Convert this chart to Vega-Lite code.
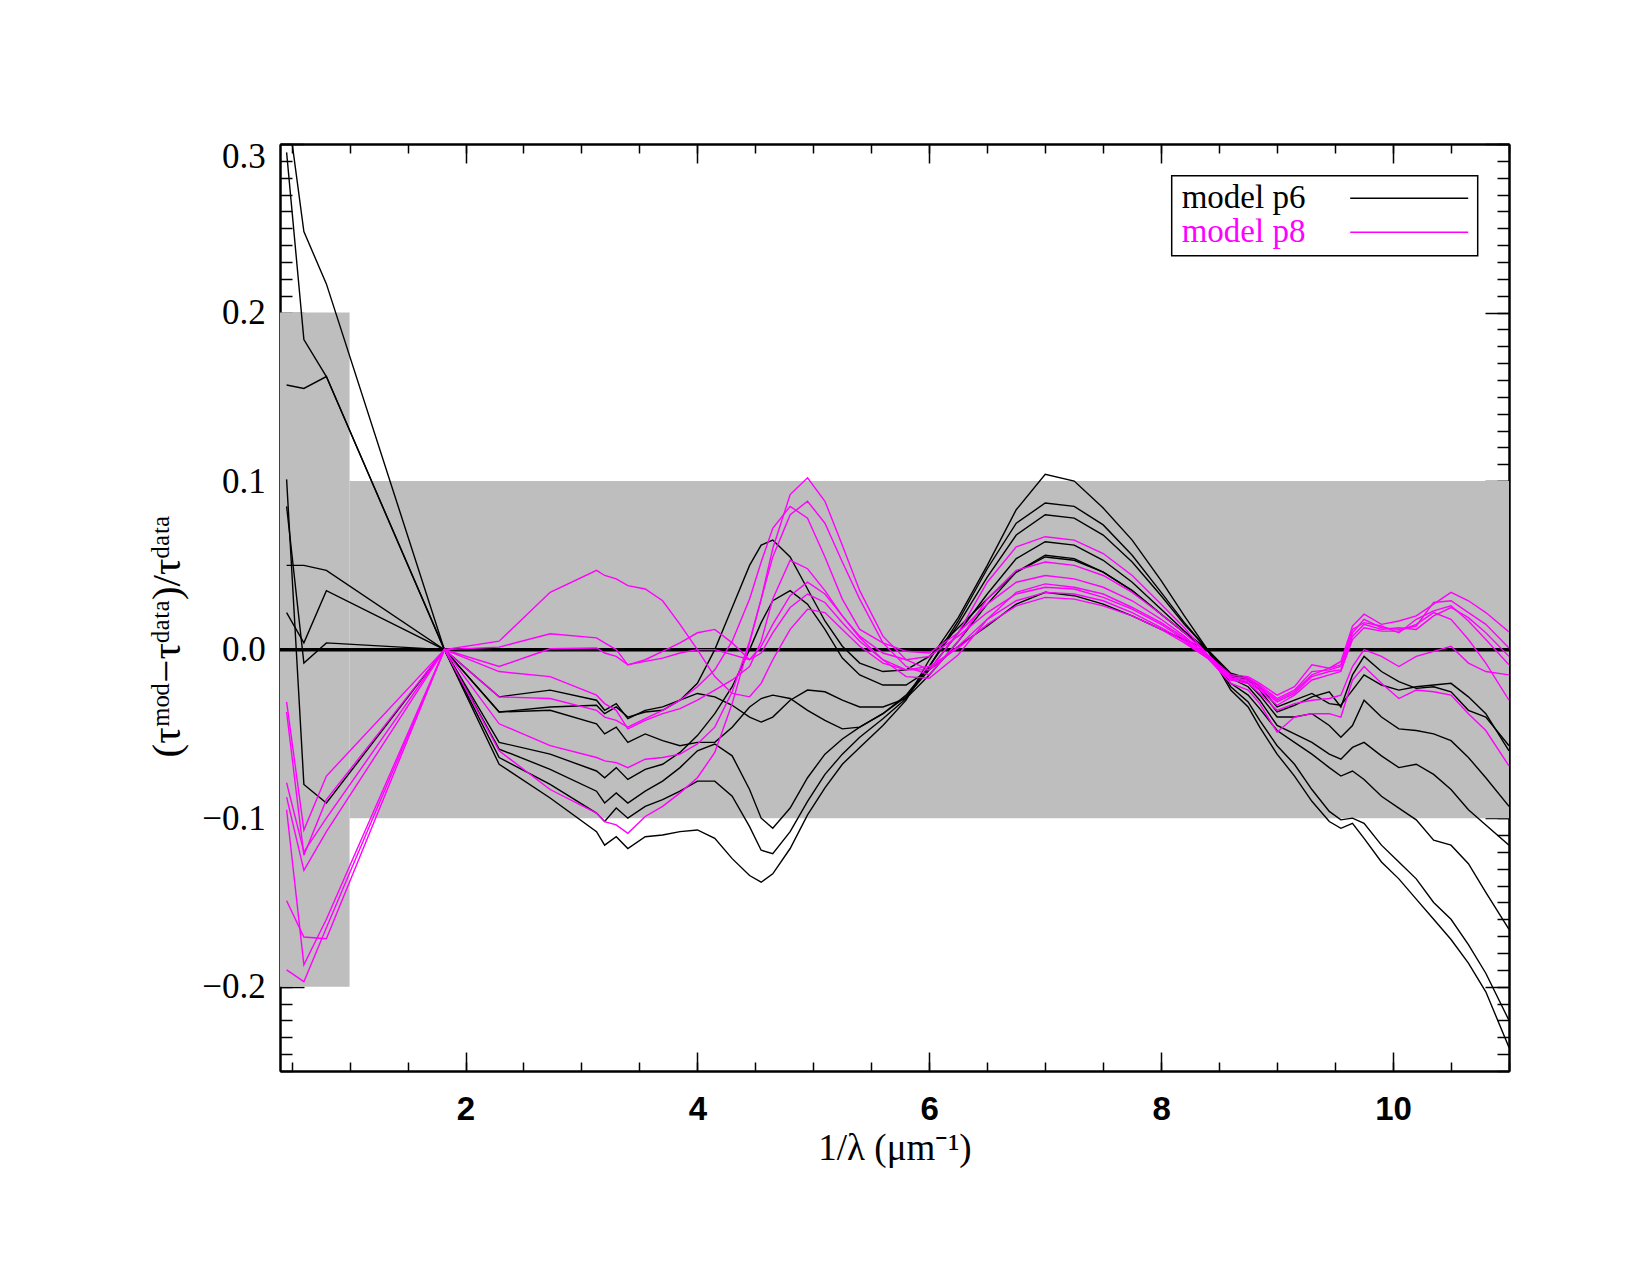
{
"$schema":"https://vega.github.io/schema/vega-lite/v6.json",
"width":1229,"height":927,
"autosize":{"type":"none"},
"padding":{"left":280,"top":144,"right":141,"bottom":204},
"background":"white",
"config":{"view":{"stroke":null},"axis":{"grid":false,"domainColor":"black","domainWidth":2,"tickColor":"black","tickWidth":1.5,"labelColor":"black","titleColor":"black"}},
"resolve":{"axis":{"x":"independent","y":"independent"}},
"layer":[
{"data":{"values":[{"x":0.4,"x2":1.0,"y":-0.2,"y2":0.2}]},
 "mark":{"type":"rect","color":"#bebebe"},
 "encoding":{
  "x":{"field":"x","type":"quantitative","scale":{"domain":[0.4,11],"nice":false,"zero":false},
   "axis":{"orient":"bottom","values":[2,4,6,8,10],"format":"d","tickSize":-19,"labelPadding":41,"labelFont":"Liberation Sans","labelFontSize":33,"labelFontWeight":"bold","labelFlush":false,"title":"1/λ (μm⁻¹)","titleFont":"Liberation Serif","titleFontSize":37,"titleFontWeight":"normal","titleY":88,"titleBaseline":"alphabetic"}},
  "x2":{"field":"x2"},
  "y":{"field":"y","type":"quantitative","scale":{"domain":[-0.25,0.3],"nice":false,"zero":false},
   "axis":{"orient":"left","values":[-0.2,-0.1,0,0.1,0.2,0.3],"format":".1f","tickSize":-24,"labelPadding":38.7,"labelFont":"Liberation Serif","labelFontSize":35,"labelFlush":true,"labelFlushOffset":5,"title":"(τᵐᵒᵈ−τᵈᵃᵗᵃ)/τᵈᵃᵗᵃ","titleFont":"Liberation Serif","titleFontSize":41,"titleFontWeight":"normal","titleX":-113,"titleY":492,"titleAngle":270,"titleAlign":"center","titleBaseline":"middle"}},
  "y2":{"field":"y2"}
 }},
{"data":{"values":[{"x":1.0,"x2":11.0,"y":-0.1,"y2":0.1}]},
 "mark":{"type":"rect","color":"#bebebe"},
 "encoding":{
  "x":{"field":"x","type":"quantitative","scale":{"domain":[0.4,11],"nice":false,"zero":false},
   "axis":{"orient":"top","values":[2,4,6,8,10],"tickSize":-19,"labels":false,"title":null}},
  "x2":{"field":"x2"},
  "y":{"field":"y","type":"quantitative","scale":{"domain":[-0.25,0.3],"nice":false,"zero":false},
   "axis":{"orient":"right","values":[-0.2,-0.1,0,0.1,0.2,0.3],"tickSize":-24,"labels":false,"title":null}},
  "y2":{"field":"y2"}
 }},
{"data":{"values":[{"x":0.4,"x2":11.0,"y":0}]},
 "mark":{"type":"rule","color":"black","strokeWidth":3.5},
 "encoding":{
  "x":{"field":"x","type":"quantitative","scale":{"domain":[0.4,11],"nice":false,"zero":false},
   "axis":{"orient":"bottom","values":[0.5,1,1.5,2,2.5,3,3.5,4,4.5,5,5.5,6,6.5,7,7.5,8,8.5,9,9.5,10,10.5,11],"tickSize":-9,"labels":false,"title":null}},
  "x2":{"field":"x2"},
  "y":{"field":"y","type":"quantitative","scale":{"domain":[-0.25,0.3],"nice":false,"zero":false},
   "axis":{"orient":"left","values":[-0.25,-0.24,-0.23,-0.22,-0.21,-0.2,-0.19,-0.18,-0.17,-0.16,-0.15,-0.14,-0.13,-0.12,-0.11,-0.1,-0.09,-0.08,-0.07,-0.06,-0.05,-0.04,-0.03,-0.02,-0.01,0,0.01,0.02,0.03,0.04,0.05,0.06,0.07,0.08,0.09,0.1,0.11,0.12,0.13,0.14,0.15,0.16,0.17,0.18,0.19,0.2,0.21,0.22,0.23,0.24,0.25,0.26,0.27,0.28,0.29,0.3],"tickSize":-12,"labels":false,"title":null}}
 }},
{"data":{"values":[
{"m":"model p6","c":"b1","x":0.457,"y":0.325},{"m":"model p6","c":"b1","x":0.606,"y":0.248},{"m":"model p6","c":"b1","x":0.8,"y":0.217},{"m":"model p6","c":"b1","x":1.818,"y":0},{"m":"model p6","c":"b1","x":2.29,"y":-0.068},{"m":"model p6","c":"b1","x":2.73,"y":-0.088},
{"m":"model p6","c":"b1","x":3.13,"y":-0.108},{"m":"model p6","c":"b1","x":3.2,"y":-0.116},{"m":"model p6","c":"b1","x":3.3,"y":-0.111},{"m":"model p6","c":"b1","x":3.4,"y":-0.118},{"m":"model p6","c":"b1","x":3.55,"y":-0.111},{"m":"model p6","c":"b1","x":3.7,"y":-0.110},{"m":"model p6","c":"b1","x":3.85,"y":-0.108},{"m":"model p6","c":"b1","x":4.0,"y":-0.107},
{"m":"model p6","c":"b1","x":4.15,"y":-0.112},{"m":"model p6","c":"b1","x":4.3,"y":-0.124},{"m":"model p6","c":"b1","x":4.45,"y":-0.134},{"m":"model p6","c":"b1","x":4.55,"y":-0.138},{"m":"model p6","c":"b1","x":4.65,"y":-0.133},{"m":"model p6","c":"b1","x":4.8,"y":-0.118},{"m":"model p6","c":"b1","x":4.95,"y":-0.098},{"m":"model p6","c":"b1","x":5.1,"y":-0.082},
{"m":"model p6","c":"b1","x":5.25,"y":-0.068},{"m":"model p6","c":"b1","x":5.4,"y":-0.058},{"m":"model p6","c":"b1","x":5.6,"y":-0.045},{"m":"model p6","c":"b1","x":5.8,"y":-0.030},{"m":"model p6","c":"b1","x":6.0,"y":-0.006},{"m":"model p6","c":"b1","x":6.25,"y":0.019},{"m":"model p6","c":"b1","x":6.5,"y":0.050},{"m":"model p6","c":"b1","x":6.75,"y":0.083},
{"m":"model p6","c":"b1","x":7.0,"y":0.104},{"m":"model p6","c":"b1","x":7.25,"y":0.100},{"m":"model p6","c":"b1","x":7.5,"y":0.084},{"m":"model p6","c":"b1","x":7.75,"y":0.065},{"m":"model p6","c":"b1","x":8.0,"y":0.041},{"m":"model p6","c":"b1","x":8.2,"y":0.020},{"m":"model p6","c":"b1","x":8.4,"y":0.000},{"m":"model p6","c":"b1","x":8.6,"y":-0.024},
{"m":"model p6","c":"b1","x":8.75,"y":-0.034},{"m":"model p6","c":"b1","x":8.85,"y":-0.046},{"m":"model p6","c":"b1","x":9.0,"y":-0.062},{"m":"model p6","c":"b1","x":9.15,"y":-0.075},{"m":"model p6","c":"b1","x":9.3,"y":-0.090},{"m":"model p6","c":"b1","x":9.45,"y":-0.102},{"m":"model p6","c":"b1","x":9.55,"y":-0.106},{"m":"model p6","c":"b1","x":9.65,"y":-0.103},
{"m":"model p6","c":"b1","x":9.75,"y":-0.112},{"m":"model p6","c":"b1","x":9.9,"y":-0.126},{"m":"model p6","c":"b1","x":10.05,"y":-0.136},{"m":"model p6","c":"b1","x":10.2,"y":-0.148},{"m":"model p6","c":"b1","x":10.35,"y":-0.160},{"m":"model p6","c":"b1","x":10.5,"y":-0.172},{"m":"model p6","c":"b1","x":10.65,"y":-0.186},{"m":"model p6","c":"b1","x":10.8,"y":-0.203},{"m":"model p6","c":"b1","x":11.0,"y":-0.236},

{"m":"model p6","c":"b2","x":0.457,"y":0.295},{"m":"model p6","c":"b2","x":0.606,"y":0.184},{"m":"model p6","c":"b2","x":0.8,"y":0.162},{"m":"model p6","c":"b2","x":1.818,"y":0},{"m":"model p6","c":"b2","x":2.29,"y":-0.064},{"m":"model p6","c":"b2","x":2.73,"y":-0.080},
{"m":"model p6","c":"b2","x":3.13,"y":-0.097},{"m":"model p6","c":"b2","x":3.2,"y":-0.102},{"m":"model p6","c":"b2","x":3.3,"y":-0.094},{"m":"model p6","c":"b2","x":3.4,"y":-0.100},{"m":"model p6","c":"b2","x":3.55,"y":-0.093},{"m":"model p6","c":"b2","x":3.7,"y":-0.089},{"m":"model p6","c":"b2","x":3.85,"y":-0.084},{"m":"model p6","c":"b2","x":4.0,"y":-0.078},
{"m":"model p6","c":"b2","x":4.15,"y":-0.078},{"m":"model p6","c":"b2","x":4.3,"y":-0.087},{"m":"model p6","c":"b2","x":4.45,"y":-0.105},{"m":"model p6","c":"b2","x":4.55,"y":-0.119},{"m":"model p6","c":"b2","x":4.65,"y":-0.121},{"m":"model p6","c":"b2","x":4.8,"y":-0.108},{"m":"model p6","c":"b2","x":4.95,"y":-0.090},{"m":"model p6","c":"b2","x":5.1,"y":-0.074},
{"m":"model p6","c":"b2","x":5.25,"y":-0.062},{"m":"model p6","c":"b2","x":5.4,"y":-0.052},{"m":"model p6","c":"b2","x":5.6,"y":-0.041},{"m":"model p6","c":"b2","x":5.8,"y":-0.029},{"m":"model p6","c":"b2","x":6.0,"y":-0.010},{"m":"model p6","c":"b2","x":6.25,"y":0.017},{"m":"model p6","c":"b2","x":6.5,"y":0.048},{"m":"model p6","c":"b2","x":6.75,"y":0.075},
{"m":"model p6","c":"b2","x":7.0,"y":0.087},{"m":"model p6","c":"b2","x":7.25,"y":0.085},{"m":"model p6","c":"b2","x":7.5,"y":0.074},{"m":"model p6","c":"b2","x":7.75,"y":0.056},{"m":"model p6","c":"b2","x":8.0,"y":0.034},{"m":"model p6","c":"b2","x":8.2,"y":0.016},{"m":"model p6","c":"b2","x":8.4,"y":0.000},{"m":"model p6","c":"b2","x":8.6,"y":-0.022},
{"m":"model p6","c":"b2","x":8.75,"y":-0.031},{"m":"model p6","c":"b2","x":8.85,"y":-0.042},{"m":"model p6","c":"b2","x":9.0,"y":-0.057},{"m":"model p6","c":"b2","x":9.15,"y":-0.068},{"m":"model p6","c":"b2","x":9.3,"y":-0.083},{"m":"model p6","c":"b2","x":9.45,"y":-0.096},{"m":"model p6","c":"b2","x":9.55,"y":-0.101},{"m":"model p6","c":"b2","x":9.65,"y":-0.100},
{"m":"model p6","c":"b2","x":9.75,"y":-0.103},{"m":"model p6","c":"b2","x":9.9,"y":-0.116},{"m":"model p6","c":"b2","x":10.05,"y":-0.126},{"m":"model p6","c":"b2","x":10.2,"y":-0.136},{"m":"model p6","c":"b2","x":10.35,"y":-0.150},{"m":"model p6","c":"b2","x":10.5,"y":-0.160},{"m":"model p6","c":"b2","x":10.65,"y":-0.175},{"m":"model p6","c":"b2","x":10.8,"y":-0.192},{"m":"model p6","c":"b2","x":11.0,"y":-0.220},

{"m":"model p6","c":"b3","x":0.457,"y":0.157},{"m":"model p6","c":"b3","x":0.606,"y":0.155},{"m":"model p6","c":"b3","x":0.8,"y":0.162},{"m":"model p6","c":"b3","x":1.818,"y":0},{"m":"model p6","c":"b3","x":2.29,"y":-0.059},{"m":"model p6","c":"b3","x":2.73,"y":-0.071},
{"m":"model p6","c":"b3","x":3.13,"y":-0.084},{"m":"model p6","c":"b3","x":3.2,"y":-0.091},{"m":"model p6","c":"b3","x":3.3,"y":-0.085},{"m":"model p6","c":"b3","x":3.4,"y":-0.091},{"m":"model p6","c":"b3","x":3.55,"y":-0.084},{"m":"model p6","c":"b3","x":3.7,"y":-0.078},{"m":"model p6","c":"b3","x":3.85,"y":-0.070},{"m":"model p6","c":"b3","x":4.0,"y":-0.060},
{"m":"model p6","c":"b3","x":4.15,"y":-0.056},{"m":"model p6","c":"b3","x":4.3,"y":-0.063},{"m":"model p6","c":"b3","x":4.45,"y":-0.083},{"m":"model p6","c":"b3","x":4.55,"y":-0.100},{"m":"model p6","c":"b3","x":4.65,"y":-0.106},{"m":"model p6","c":"b3","x":4.8,"y":-0.094},{"m":"model p6","c":"b3","x":4.95,"y":-0.076},{"m":"model p6","c":"b3","x":5.1,"y":-0.062},
{"m":"model p6","c":"b3","x":5.25,"y":-0.053},{"m":"model p6","c":"b3","x":5.4,"y":-0.046},{"m":"model p6","c":"b3","x":5.6,"y":-0.038},{"m":"model p6","c":"b3","x":5.8,"y":-0.027},{"m":"model p6","c":"b3","x":6.0,"y":-0.010},{"m":"model p6","c":"b3","x":6.25,"y":0.015},{"m":"model p6","c":"b3","x":6.5,"y":0.043},{"m":"model p6","c":"b3","x":6.75,"y":0.068},
{"m":"model p6","c":"b3","x":7.0,"y":0.080},{"m":"model p6","c":"b3","x":7.25,"y":0.078},{"m":"model p6","c":"b3","x":7.5,"y":0.068},{"m":"model p6","c":"b3","x":7.75,"y":0.052},{"m":"model p6","c":"b3","x":8.0,"y":0.032},{"m":"model p6","c":"b3","x":8.2,"y":0.015},{"m":"model p6","c":"b3","x":8.4,"y":0.000},{"m":"model p6","c":"b3","x":8.6,"y":-0.020},
{"m":"model p6","c":"b3","x":8.75,"y":-0.027},{"m":"model p6","c":"b3","x":8.85,"y":-0.035},{"m":"model p6","c":"b3","x":9.0,"y":-0.048},{"m":"model p6","c":"b3","x":9.15,"y":-0.055},{"m":"model p6","c":"b3","x":9.3,"y":-0.062},{"m":"model p6","c":"b3","x":9.45,"y":-0.070},{"m":"model p6","c":"b3","x":9.55,"y":-0.075},{"m":"model p6","c":"b3","x":9.65,"y":-0.072},
{"m":"model p6","c":"b3","x":9.75,"y":-0.077},{"m":"model p6","c":"b3","x":9.9,"y":-0.087},{"m":"model p6","c":"b3","x":10.05,"y":-0.094},{"m":"model p6","c":"b3","x":10.2,"y":-0.101},{"m":"model p6","c":"b3","x":10.35,"y":-0.113},{"m":"model p6","c":"b3","x":10.5,"y":-0.116},{"m":"model p6","c":"b3","x":10.65,"y":-0.127},{"m":"model p6","c":"b3","x":10.8,"y":-0.144},{"m":"model p6","c":"b3","x":11.0,"y":-0.166},

{"m":"model p6","c":"b4","x":0.457,"y":0.101},{"m":"model p6","c":"b4","x":0.606,"y":-0.080},{"m":"model p6","c":"b4","x":0.8,"y":-0.091},{"m":"model p6","c":"b4","x":1.818,"y":0},{"m":"model p6","c":"b4","x":2.29,"y":-0.028},{"m":"model p6","c":"b4","x":2.73,"y":-0.024},
{"m":"model p6","c":"b4","x":3.13,"y":-0.030},{"m":"model p6","c":"b4","x":3.2,"y":-0.036},{"m":"model p6","c":"b4","x":3.3,"y":-0.032},{"m":"model p6","c":"b4","x":3.4,"y":-0.041},{"m":"model p6","c":"b4","x":3.55,"y":-0.036},{"m":"model p6","c":"b4","x":3.7,"y":-0.034},{"m":"model p6","c":"b4","x":3.85,"y":-0.030},{"m":"model p6","c":"b4","x":4.0,"y":-0.020},
{"m":"model p6","c":"b4","x":4.15,"y":0.000},{"m":"model p6","c":"b4","x":4.3,"y":0.025},{"m":"model p6","c":"b4","x":4.45,"y":0.050},{"m":"model p6","c":"b4","x":4.55,"y":0.062},{"m":"model p6","c":"b4","x":4.65,"y":0.065},{"m":"model p6","c":"b4","x":4.8,"y":0.055},{"m":"model p6","c":"b4","x":4.95,"y":0.036},{"m":"model p6","c":"b4","x":5.1,"y":0.017},
{"m":"model p6","c":"b4","x":5.25,"y":0.002},{"m":"model p6","c":"b4","x":5.4,"y":-0.008},{"m":"model p6","c":"b4","x":5.6,"y":-0.013},{"m":"model p6","c":"b4","x":5.8,"y":-0.012},{"m":"model p6","c":"b4","x":6.0,"y":-0.004},{"m":"model p6","c":"b4","x":6.25,"y":0.013},{"m":"model p6","c":"b4","x":6.5,"y":0.030},{"m":"model p6","c":"b4","x":6.75,"y":0.046},
{"m":"model p6","c":"b4","x":7.0,"y":0.055},{"m":"model p6","c":"b4","x":7.25,"y":0.053},{"m":"model p6","c":"b4","x":7.5,"y":0.046},{"m":"model p6","c":"b4","x":7.75,"y":0.035},{"m":"model p6","c":"b4","x":8.0,"y":0.021},{"m":"model p6","c":"b4","x":8.2,"y":0.010},{"m":"model p6","c":"b4","x":8.4,"y":-0.001},{"m":"model p6","c":"b4","x":8.6,"y":-0.015},
{"m":"model p6","c":"b4","x":8.75,"y":-0.018},{"m":"model p6","c":"b4","x":8.85,"y":-0.024},{"m":"model p6","c":"b4","x":9.0,"y":-0.037},{"m":"model p6","c":"b4","x":9.15,"y":-0.033},{"m":"model p6","c":"b4","x":9.3,"y":-0.028},{"m":"model p6","c":"b4","x":9.45,"y":-0.025},{"m":"model p6","c":"b4","x":9.55,"y":-0.034},{"m":"model p6","c":"b4","x":9.65,"y":-0.015},
{"m":"model p6","c":"b4","x":9.75,"y":-0.004},{"m":"model p6","c":"b4","x":9.9,"y":-0.013},{"m":"model p6","c":"b4","x":10.05,"y":-0.019},{"m":"model p6","c":"b4","x":10.2,"y":-0.023},{"m":"model p6","c":"b4","x":10.35,"y":-0.022},{"m":"model p6","c":"b4","x":10.5,"y":-0.025},{"m":"model p6","c":"b4","x":10.65,"y":-0.036},{"m":"model p6","c":"b4","x":10.8,"y":-0.040},{"m":"model p6","c":"b4","x":11.0,"y":-0.057},

{"m":"model p6","c":"b5","x":0.457,"y":0.050},{"m":"model p6","c":"b5","x":0.606,"y":0.050},{"m":"model p6","c":"b5","x":0.8,"y":0.047},{"m":"model p6","c":"b5","x":1.818,"y":0},{"m":"model p6","c":"b5","x":2.29,"y":-0.055},{"m":"model p6","c":"b5","x":2.73,"y":-0.062},
{"m":"model p6","c":"b5","x":3.13,"y":-0.072},{"m":"model p6","c":"b5","x":3.2,"y":-0.076},{"m":"model p6","c":"b5","x":3.3,"y":-0.070},{"m":"model p6","c":"b5","x":3.4,"y":-0.077},{"m":"model p6","c":"b5","x":3.55,"y":-0.071},{"m":"model p6","c":"b5","x":3.7,"y":-0.068},{"m":"model p6","c":"b5","x":3.85,"y":-0.061},{"m":"model p6","c":"b5","x":4.0,"y":-0.051},
{"m":"model p6","c":"b5","x":4.15,"y":-0.038},{"m":"model p6","c":"b5","x":4.3,"y":-0.022},{"m":"model p6","c":"b5","x":4.45,"y":0.000},{"m":"model p6","c":"b5","x":4.55,"y":0.016},{"m":"model p6","c":"b5","x":4.65,"y":0.029},{"m":"model p6","c":"b5","x":4.8,"y":0.035},{"m":"model p6","c":"b5","x":4.95,"y":0.027},{"m":"model p6","c":"b5","x":5.1,"y":0.012},
{"m":"model p6","c":"b5","x":5.25,"y":-0.005},{"m":"model p6","c":"b5","x":5.4,"y":-0.015},{"m":"model p6","c":"b5","x":5.6,"y":-0.021},{"m":"model p6","c":"b5","x":5.8,"y":-0.021},{"m":"model p6","c":"b5","x":6.0,"y":-0.012},{"m":"model p6","c":"b5","x":6.25,"y":0.002},{"m":"model p6","c":"b5","x":6.5,"y":0.014},{"m":"model p6","c":"b5","x":6.75,"y":0.027},
{"m":"model p6","c":"b5","x":7.0,"y":0.034},{"m":"model p6","c":"b5","x":7.25,"y":0.032},{"m":"model p6","c":"b5","x":7.5,"y":0.027},{"m":"model p6","c":"b5","x":7.75,"y":0.020},{"m":"model p6","c":"b5","x":8.0,"y":0.012},{"m":"model p6","c":"b5","x":8.2,"y":0.006},{"m":"model p6","c":"b5","x":8.4,"y":0.000},{"m":"model p6","c":"b5","x":8.6,"y":-0.014},
{"m":"model p6","c":"b5","x":8.75,"y":-0.017},{"m":"model p6","c":"b5","x":8.85,"y":-0.022},{"m":"model p6","c":"b5","x":9.0,"y":-0.034},{"m":"model p6","c":"b5","x":9.15,"y":-0.030},{"m":"model p6","c":"b5","x":9.3,"y":-0.026},{"m":"model p6","c":"b5","x":9.45,"y":-0.032},{"m":"model p6","c":"b5","x":9.55,"y":-0.033},{"m":"model p6","c":"b5","x":9.65,"y":-0.024},
{"m":"model p6","c":"b5","x":9.75,"y":-0.015},{"m":"model p6","c":"b5","x":9.9,"y":-0.021},{"m":"model p6","c":"b5","x":10.05,"y":-0.024},{"m":"model p6","c":"b5","x":10.2,"y":-0.022},{"m":"model p6","c":"b5","x":10.35,"y":-0.021},{"m":"model p6","c":"b5","x":10.5,"y":-0.020},{"m":"model p6","c":"b5","x":10.65,"y":-0.028},{"m":"model p6","c":"b5","x":10.8,"y":-0.038},{"m":"model p6","c":"b5","x":11.0,"y":-0.060},

{"m":"model p6","c":"b6","x":0.457,"y":0.022},{"m":"model p6","c":"b6","x":0.606,"y":0.004},{"m":"model p6","c":"b6","x":0.8,"y":0.035},{"m":"model p6","c":"b6","x":1.818,"y":0},{"m":"model p6","c":"b6","x":2.29,"y":-0.037},{"m":"model p6","c":"b6","x":2.73,"y":-0.036},
{"m":"model p6","c":"b6","x":3.13,"y":-0.044},{"m":"model p6","c":"b6","x":3.2,"y":-0.050},{"m":"model p6","c":"b6","x":3.3,"y":-0.046},{"m":"model p6","c":"b6","x":3.4,"y":-0.055},{"m":"model p6","c":"b6","x":3.55,"y":-0.050},{"m":"model p6","c":"b6","x":3.7,"y":-0.054},{"m":"model p6","c":"b6","x":3.85,"y":-0.057},{"m":"model p6","c":"b6","x":4.0,"y":-0.055},
{"m":"model p6","c":"b6","x":4.15,"y":-0.055},{"m":"model p6","c":"b6","x":4.3,"y":-0.046},{"m":"model p6","c":"b6","x":4.45,"y":-0.034},{"m":"model p6","c":"b6","x":4.55,"y":-0.029},{"m":"model p6","c":"b6","x":4.65,"y":-0.027},{"m":"model p6","c":"b6","x":4.8,"y":-0.029},{"m":"model p6","c":"b6","x":4.95,"y":-0.036},{"m":"model p6","c":"b6","x":5.1,"y":-0.042},
{"m":"model p6","c":"b6","x":5.25,"y":-0.047},{"m":"model p6","c":"b6","x":5.4,"y":-0.046},{"m":"model p6","c":"b6","x":5.6,"y":-0.038},{"m":"model p6","c":"b6","x":5.8,"y":-0.028},{"m":"model p6","c":"b6","x":6.0,"y":-0.012},{"m":"model p6","c":"b6","x":6.25,"y":0.010},{"m":"model p6","c":"b6","x":6.5,"y":0.033},{"m":"model p6","c":"b6","x":6.75,"y":0.054},
{"m":"model p6","c":"b6","x":7.0,"y":0.064},{"m":"model p6","c":"b6","x":7.25,"y":0.062},{"m":"model p6","c":"b6","x":7.5,"y":0.053},{"m":"model p6","c":"b6","x":7.75,"y":0.040},{"m":"model p6","c":"b6","x":8.0,"y":0.024},{"m":"model p6","c":"b6","x":8.2,"y":0.011},{"m":"model p6","c":"b6","x":8.4,"y":0.000},{"m":"model p6","c":"b6","x":8.6,"y":-0.017},
{"m":"model p6","c":"b6","x":8.75,"y":-0.022},{"m":"model p6","c":"b6","x":8.85,"y":-0.030},{"m":"model p6","c":"b6","x":9.0,"y":-0.045},{"m":"model p6","c":"b6","x":9.15,"y":-0.050},{"m":"model p6","c":"b6","x":9.3,"y":-0.055},{"m":"model p6","c":"b6","x":9.45,"y":-0.062},{"m":"model p6","c":"b6","x":9.55,"y":-0.065},{"m":"model p6","c":"b6","x":9.65,"y":-0.058},
{"m":"model p6","c":"b6","x":9.75,"y":-0.055},{"m":"model p6","c":"b6","x":9.9,"y":-0.063},{"m":"model p6","c":"b6","x":10.05,"y":-0.070},{"m":"model p6","c":"b6","x":10.2,"y":-0.068},{"m":"model p6","c":"b6","x":10.35,"y":-0.074},{"m":"model p6","c":"b6","x":10.5,"y":-0.083},{"m":"model p6","c":"b6","x":10.65,"y":-0.095},{"m":"model p6","c":"b6","x":10.8,"y":-0.104},{"m":"model p6","c":"b6","x":11.0,"y":-0.116},

{"m":"model p6","c":"b7","x":0.457,"y":0.085},{"m":"model p6","c":"b7","x":0.606,"y":-0.008},{"m":"model p6","c":"b7","x":0.8,"y":0.004},{"m":"model p6","c":"b7","x":1.818,"y":0},{"m":"model p6","c":"b7","x":2.29,"y":-0.037},{"m":"model p6","c":"b7","x":2.73,"y":-0.034},
{"m":"model p6","c":"b7","x":3.13,"y":-0.033},{"m":"model p6","c":"b7","x":3.2,"y":-0.038},{"m":"model p6","c":"b7","x":3.3,"y":-0.034},{"m":"model p6","c":"b7","x":3.4,"y":-0.040},{"m":"model p6","c":"b7","x":3.55,"y":-0.037},{"m":"model p6","c":"b7","x":3.7,"y":-0.036},{"m":"model p6","c":"b7","x":3.85,"y":-0.030},{"m":"model p6","c":"b7","x":4.0,"y":-0.026},
{"m":"model p6","c":"b7","x":4.15,"y":-0.028},{"m":"model p6","c":"b7","x":4.3,"y":-0.033},{"m":"model p6","c":"b7","x":4.45,"y":-0.040},{"m":"model p6","c":"b7","x":4.55,"y":-0.043},{"m":"model p6","c":"b7","x":4.65,"y":-0.040},{"m":"model p6","c":"b7","x":4.8,"y":-0.030},{"m":"model p6","c":"b7","x":4.95,"y":-0.024},{"m":"model p6","c":"b7","x":5.1,"y":-0.025},
{"m":"model p6","c":"b7","x":5.25,"y":-0.030},{"m":"model p6","c":"b7","x":5.4,"y":-0.034},{"m":"model p6","c":"b7","x":5.6,"y":-0.034},{"m":"model p6","c":"b7","x":5.8,"y":-0.029},{"m":"model p6","c":"b7","x":6.0,"y":-0.015},{"m":"model p6","c":"b7","x":6.25,"y":0.005},{"m":"model p6","c":"b7","x":6.5,"y":0.027},{"m":"model p6","c":"b7","x":6.75,"y":0.046},
{"m":"model p6","c":"b7","x":7.0,"y":0.056},{"m":"model p6","c":"b7","x":7.25,"y":0.054},{"m":"model p6","c":"b7","x":7.5,"y":0.046},{"m":"model p6","c":"b7","x":7.75,"y":0.035},{"m":"model p6","c":"b7","x":8.0,"y":0.021},{"m":"model p6","c":"b7","x":8.2,"y":0.010},{"m":"model p6","c":"b7","x":8.4,"y":0.000},{"m":"model p6","c":"b7","x":8.6,"y":-0.016},
{"m":"model p6","c":"b7","x":8.75,"y":-0.020},{"m":"model p6","c":"b7","x":8.85,"y":-0.027},{"m":"model p6","c":"b7","x":9.0,"y":-0.040},{"m":"model p6","c":"b7","x":9.15,"y":-0.040},{"m":"model p6","c":"b7","x":9.3,"y":-0.038},{"m":"model p6","c":"b7","x":9.45,"y":-0.045},{"m":"model p6","c":"b7","x":9.55,"y":-0.052},{"m":"model p6","c":"b7","x":9.65,"y":-0.045},
{"m":"model p6","c":"b7","x":9.75,"y":-0.030},{"m":"model p6","c":"b7","x":9.9,"y":-0.040},{"m":"model p6","c":"b7","x":10.05,"y":-0.047},{"m":"model p6","c":"b7","x":10.2,"y":-0.048},{"m":"model p6","c":"b7","x":10.35,"y":-0.050},{"m":"model p6","c":"b7","x":10.5,"y":-0.054},{"m":"model p6","c":"b7","x":10.65,"y":-0.064},{"m":"model p6","c":"b7","x":10.8,"y":-0.076},{"m":"model p6","c":"b7","x":11.0,"y":-0.093},

{"m":"model p8","c":"m1","x":0.457,"y":-0.031},{"m":"model p8","c":"m1","x":0.606,"y":-0.107},{"m":"model p8","c":"m1","x":0.8,"y":-0.075},{"m":"model p8","c":"m1","x":1.818,"y":0},{"m":"model p8","c":"m1","x":2.29,"y":0.005},{"m":"model p8","c":"m1","x":2.73,"y":0.034},
{"m":"model p8","c":"m1","x":3.13,"y":0.047},{"m":"model p8","c":"m1","x":3.2,"y":0.044},{"m":"model p8","c":"m1","x":3.3,"y":0.042},{"m":"model p8","c":"m1","x":3.4,"y":0.038},{"m":"model p8","c":"m1","x":3.55,"y":0.036},{"m":"model p8","c":"m1","x":3.7,"y":0.029},{"m":"model p8","c":"m1","x":3.85,"y":0.015},{"m":"model p8","c":"m1","x":4.0,"y":0.000},
{"m":"model p8","c":"m1","x":4.15,"y":-0.016},{"m":"model p8","c":"m1","x":4.3,"y":-0.026},{"m":"model p8","c":"m1","x":4.45,"y":-0.028},{"m":"model p8","c":"m1","x":4.55,"y":-0.020},{"m":"model p8","c":"m1","x":4.65,"y":-0.006},{"m":"model p8","c":"m1","x":4.8,"y":0.012},{"m":"model p8","c":"m1","x":4.95,"y":0.024},{"m":"model p8","c":"m1","x":5.1,"y":0.022},
{"m":"model p8","c":"m1","x":5.25,"y":0.012},{"m":"model p8","c":"m1","x":5.4,"y":0.002},{"m":"model p8","c":"m1","x":5.6,"y":-0.008},{"m":"model p8","c":"m1","x":5.8,"y":-0.012},{"m":"model p8","c":"m1","x":6.0,"y":-0.010},{"m":"model p8","c":"m1","x":6.25,"y":0.001},{"m":"model p8","c":"m1","x":6.5,"y":0.015},{"m":"model p8","c":"m1","x":6.75,"y":0.026},
{"m":"model p8","c":"m1","x":7.0,"y":0.031},{"m":"model p8","c":"m1","x":7.25,"y":0.030},{"m":"model p8","c":"m1","x":7.5,"y":0.026},{"m":"model p8","c":"m1","x":7.75,"y":0.020},{"m":"model p8","c":"m1","x":8.0,"y":0.012},{"m":"model p8","c":"m1","x":8.2,"y":0.004},{"m":"model p8","c":"m1","x":8.4,"y":-0.005},{"m":"model p8","c":"m1","x":8.6,"y":-0.020},
{"m":"model p8","c":"m1","x":8.75,"y":-0.024},{"m":"model p8","c":"m1","x":8.85,"y":-0.032},{"m":"model p8","c":"m1","x":9.0,"y":-0.049},{"m":"model p8","c":"m1","x":9.15,"y":-0.040},{"m":"model p8","c":"m1","x":9.3,"y":-0.038},{"m":"model p8","c":"m1","x":9.45,"y":-0.038},{"m":"model p8","c":"m1","x":9.55,"y":-0.040},{"m":"model p8","c":"m1","x":9.65,"y":-0.018},
{"m":"model p8","c":"m1","x":9.75,"y":-0.010},{"m":"model p8","c":"m1","x":9.9,"y":-0.020},{"m":"model p8","c":"m1","x":10.05,"y":-0.029},{"m":"model p8","c":"m1","x":10.2,"y":-0.024},{"m":"model p8","c":"m1","x":10.35,"y":-0.025},{"m":"model p8","c":"m1","x":10.5,"y":-0.027},{"m":"model p8","c":"m1","x":10.65,"y":-0.038},{"m":"model p8","c":"m1","x":10.8,"y":-0.048},{"m":"model p8","c":"m1","x":11.0,"y":-0.069},

{"m":"model p8","c":"m2","x":0.457,"y":-0.037},{"m":"model p8","c":"m2","x":0.606,"y":-0.122},{"m":"model p8","c":"m2","x":0.8,"y":-0.089},{"m":"model p8","c":"m2","x":1.818,"y":0},{"m":"model p8","c":"m2","x":2.29,"y":0.0015},{"m":"model p8","c":"m2","x":2.73,"y":0.0094},
{"m":"model p8","c":"m2","x":3.13,"y":0.007},{"m":"model p8","c":"m2","x":3.2,"y":0.004},{"m":"model p8","c":"m2","x":3.3,"y":0.000},{"m":"model p8","c":"m2","x":3.4,"y":-0.009},{"m":"model p8","c":"m2","x":3.55,"y":-0.006},{"m":"model p8","c":"m2","x":3.7,"y":-0.001},{"m":"model p8","c":"m2","x":3.85,"y":0.004},{"m":"model p8","c":"m2","x":4.0,"y":0.010},
{"m":"model p8","c":"m2","x":4.15,"y":0.012},{"m":"model p8","c":"m2","x":4.3,"y":0.004},{"m":"model p8","c":"m2","x":4.45,"y":-0.006},{"m":"model p8","c":"m2","x":4.55,"y":-0.002},{"m":"model p8","c":"m2","x":4.65,"y":0.010},{"m":"model p8","c":"m2","x":4.8,"y":0.025},{"m":"model p8","c":"m2","x":4.95,"y":0.033},{"m":"model p8","c":"m2","x":5.1,"y":0.028},
{"m":"model p8","c":"m2","x":5.25,"y":0.016},{"m":"model p8","c":"m2","x":5.4,"y":0.005},{"m":"model p8","c":"m2","x":5.6,"y":-0.006},{"m":"model p8","c":"m2","x":5.8,"y":-0.012},{"m":"model p8","c":"m2","x":6.0,"y":-0.012},{"m":"model p8","c":"m2","x":6.25,"y":0.002},{"m":"model p8","c":"m2","x":6.5,"y":0.018},{"m":"model p8","c":"m2","x":6.75,"y":0.029},
{"m":"model p8","c":"m2","x":7.0,"y":0.034},{"m":"model p8","c":"m2","x":7.25,"y":0.033},{"m":"model p8","c":"m2","x":7.5,"y":0.029},{"m":"model p8","c":"m2","x":7.75,"y":0.022},{"m":"model p8","c":"m2","x":8.0,"y":0.013},{"m":"model p8","c":"m2","x":8.2,"y":0.005},{"m":"model p8","c":"m2","x":8.4,"y":-0.005},{"m":"model p8","c":"m2","x":8.6,"y":-0.018},
{"m":"model p8","c":"m2","x":8.75,"y":-0.020},{"m":"model p8","c":"m2","x":8.85,"y":-0.026},{"m":"model p8","c":"m2","x":9.0,"y":-0.036},{"m":"model p8","c":"m2","x":9.15,"y":-0.032},{"m":"model p8","c":"m2","x":9.3,"y":-0.030},{"m":"model p8","c":"m2","x":9.45,"y":-0.029},{"m":"model p8","c":"m2","x":9.55,"y":-0.027},{"m":"model p8","c":"m2","x":9.65,"y":-0.010},
{"m":"model p8","c":"m2","x":9.75,"y":0.000},{"m":"model p8","c":"m2","x":9.9,"y":-0.004},{"m":"model p8","c":"m2","x":10.05,"y":-0.010},{"m":"model p8","c":"m2","x":10.2,"y":-0.004},{"m":"model p8","c":"m2","x":10.35,"y":-0.001},{"m":"model p8","c":"m2","x":10.5,"y":0.002},{"m":"model p8","c":"m2","x":10.65,"y":-0.008},{"m":"model p8","c":"m2","x":10.8,"y":-0.013},{"m":"model p8","c":"m2","x":11.0,"y":-0.015},

{"m":"model p8","c":"m3","x":0.457,"y":-0.079},{"m":"model p8","c":"m3","x":0.606,"y":-0.120},{"m":"model p8","c":"m3","x":0.8,"y":-0.100},{"m":"model p8","c":"m3","x":1.818,"y":0},{"m":"model p8","c":"m3","x":2.29,"y":-0.010},{"m":"model p8","c":"m3","x":2.73,"y":0.0005},
{"m":"model p8","c":"m3","x":3.13,"y":0.001},{"m":"model p8","c":"m3","x":3.2,"y":-0.002},{"m":"model p8","c":"m3","x":3.3,"y":-0.004},{"m":"model p8","c":"m3","x":3.4,"y":-0.009},{"m":"model p8","c":"m3","x":3.55,"y":-0.007},{"m":"model p8","c":"m3","x":3.7,"y":-0.005},{"m":"model p8","c":"m3","x":3.85,"y":-0.002},{"m":"model p8","c":"m3","x":4.0,"y":0.000},
{"m":"model p8","c":"m3","x":4.15,"y":0.000},{"m":"model p8","c":"m3","x":4.3,"y":-0.003},{"m":"model p8","c":"m3","x":4.45,"y":-0.006},{"m":"model p8","c":"m3","x":4.55,"y":0.002},{"m":"model p8","c":"m3","x":4.65,"y":0.015},{"m":"model p8","c":"m3","x":4.8,"y":0.032},{"m":"model p8","c":"m3","x":4.95,"y":0.040},{"m":"model p8","c":"m3","x":5.1,"y":0.033},
{"m":"model p8","c":"m3","x":5.25,"y":0.020},{"m":"model p8","c":"m3","x":5.4,"y":0.008},{"m":"model p8","c":"m3","x":5.6,"y":-0.002},{"m":"model p8","c":"m3","x":5.8,"y":-0.006},{"m":"model p8","c":"m3","x":6.0,"y":-0.004},{"m":"model p8","c":"m3","x":6.25,"y":0.008},{"m":"model p8","c":"m3","x":6.5,"y":0.022},{"m":"model p8","c":"m3","x":6.75,"y":0.033},
{"m":"model p8","c":"m3","x":7.0,"y":0.037},{"m":"model p8","c":"m3","x":7.25,"y":0.036},{"m":"model p8","c":"m3","x":7.5,"y":0.031},{"m":"model p8","c":"m3","x":7.75,"y":0.024},{"m":"model p8","c":"m3","x":8.0,"y":0.015},{"m":"model p8","c":"m3","x":8.2,"y":0.006},{"m":"model p8","c":"m3","x":8.4,"y":-0.005},{"m":"model p8","c":"m3","x":8.6,"y":-0.018},
{"m":"model p8","c":"m3","x":8.75,"y":-0.020},{"m":"model p8","c":"m3","x":8.85,"y":-0.024},{"m":"model p8","c":"m3","x":9.0,"y":-0.033},{"m":"model p8","c":"m3","x":9.15,"y":-0.027},{"m":"model p8","c":"m3","x":9.3,"y":-0.018},{"m":"model p8","c":"m3","x":9.45,"y":-0.015},{"m":"model p8","c":"m3","x":9.55,"y":-0.013},{"m":"model p8","c":"m3","x":9.65,"y":0.006},
{"m":"model p8","c":"m3","x":9.75,"y":0.013},{"m":"model p8","c":"m3","x":9.9,"y":0.011},{"m":"model p8","c":"m3","x":10.05,"y":0.011},{"m":"model p8","c":"m3","x":10.2,"y":0.015},{"m":"model p8","c":"m3","x":10.35,"y":0.022},{"m":"model p8","c":"m3","x":10.5,"y":0.018},{"m":"model p8","c":"m3","x":10.65,"y":0.006},{"m":"model p8","c":"m3","x":10.8,"y":-0.008},{"m":"model p8","c":"m3","x":11.0,"y":-0.030},

{"m":"model p8","c":"m4","x":0.457,"y":-0.0875},{"m":"model p8","c":"m4","x":0.606,"y":-0.131},{"m":"model p8","c":"m4","x":0.8,"y":-0.108},{"m":"model p8","c":"m4","x":1.818,"y":0},{"m":"model p8","c":"m4","x":2.29,"y":-0.013},{"m":"model p8","c":"m4","x":2.73,"y":-0.016},
{"m":"model p8","c":"m4","x":3.13,"y":-0.027},{"m":"model p8","c":"m4","x":3.2,"y":-0.032},{"m":"model p8","c":"m4","x":3.3,"y":-0.036},{"m":"model p8","c":"m4","x":3.4,"y":-0.047},{"m":"model p8","c":"m4","x":3.55,"y":-0.042},{"m":"model p8","c":"m4","x":3.7,"y":-0.038},{"m":"model p8","c":"m4","x":3.85,"y":-0.035},{"m":"model p8","c":"m4","x":4.0,"y":-0.030},
{"m":"model p8","c":"m4","x":4.15,"y":-0.024},{"m":"model p8","c":"m4","x":4.3,"y":-0.018},{"m":"model p8","c":"m4","x":4.45,"y":-0.010},{"m":"model p8","c":"m4","x":4.55,"y":0.005},{"m":"model p8","c":"m4","x":4.65,"y":0.030},{"m":"model p8","c":"m4","x":4.8,"y":0.053},{"m":"model p8","c":"m4","x":4.95,"y":0.048},{"m":"model p8","c":"m4","x":5.1,"y":0.035},
{"m":"model p8","c":"m4","x":5.25,"y":0.020},{"m":"model p8","c":"m4","x":5.4,"y":0.007},{"m":"model p8","c":"m4","x":5.6,"y":-0.006},{"m":"model p8","c":"m4","x":5.8,"y":-0.016},{"m":"model p8","c":"m4","x":6.0,"y":-0.017},{"m":"model p8","c":"m4","x":6.25,"y":-0.003},{"m":"model p8","c":"m4","x":6.5,"y":0.018},{"m":"model p8","c":"m4","x":6.75,"y":0.034},
{"m":"model p8","c":"m4","x":7.0,"y":0.039},{"m":"model p8","c":"m4","x":7.25,"y":0.037},{"m":"model p8","c":"m4","x":7.5,"y":0.033},{"m":"model p8","c":"m4","x":7.75,"y":0.025},{"m":"model p8","c":"m4","x":8.0,"y":0.016},{"m":"model p8","c":"m4","x":8.2,"y":0.007},{"m":"model p8","c":"m4","x":8.4,"y":-0.004},{"m":"model p8","c":"m4","x":8.6,"y":-0.017},
{"m":"model p8","c":"m4","x":8.75,"y":-0.019},{"m":"model p8","c":"m4","x":8.85,"y":-0.023},{"m":"model p8","c":"m4","x":9.0,"y":-0.031},{"m":"model p8","c":"m4","x":9.15,"y":-0.026},{"m":"model p8","c":"m4","x":9.3,"y":-0.016},{"m":"model p8","c":"m4","x":9.45,"y":-0.013},{"m":"model p8","c":"m4","x":9.55,"y":-0.012},{"m":"model p8","c":"m4","x":9.65,"y":0.008},
{"m":"model p8","c":"m4","x":9.75,"y":0.015},{"m":"model p8","c":"m4","x":9.9,"y":0.012},{"m":"model p8","c":"m4","x":10.05,"y":0.013},{"m":"model p8","c":"m4","x":10.2,"y":0.012},{"m":"model p8","c":"m4","x":10.35,"y":0.020},{"m":"model p8","c":"m4","x":10.5,"y":0.025},{"m":"model p8","c":"m4","x":10.65,"y":0.019},{"m":"model p8","c":"m4","x":10.8,"y":0.010},{"m":"model p8","c":"m4","x":11.0,"y":-0.004},

{"m":"model p8","c":"m5","x":0.457,"y":-0.149},{"m":"model p8","c":"m5","x":0.606,"y":-0.1705},{"m":"model p8","c":"m5","x":0.8,"y":-0.1715},{"m":"model p8","c":"m5","x":1.818,"y":0},{"m":"model p8","c":"m5","x":2.29,"y":-0.028},{"m":"model p8","c":"m5","x":2.73,"y":-0.029},
{"m":"model p8","c":"m5","x":3.13,"y":-0.036},{"m":"model p8","c":"m5","x":3.2,"y":-0.040},{"m":"model p8","c":"m5","x":3.3,"y":-0.042},{"m":"model p8","c":"m5","x":3.4,"y":-0.046},{"m":"model p8","c":"m5","x":3.55,"y":-0.041},{"m":"model p8","c":"m5","x":3.7,"y":-0.036},{"m":"model p8","c":"m5","x":3.85,"y":-0.030},{"m":"model p8","c":"m5","x":4.0,"y":-0.022},
{"m":"model p8","c":"m5","x":4.15,"y":-0.012},{"m":"model p8","c":"m5","x":4.3,"y":0.005},{"m":"model p8","c":"m5","x":4.45,"y":0.030},{"m":"model p8","c":"m5","x":4.55,"y":0.052},{"m":"model p8","c":"m5","x":4.65,"y":0.072},{"m":"model p8","c":"m5","x":4.8,"y":0.085},{"m":"model p8","c":"m5","x":4.95,"y":0.078},{"m":"model p8","c":"m5","x":5.1,"y":0.055},
{"m":"model p8","c":"m5","x":5.25,"y":0.030},{"m":"model p8","c":"m5","x":5.4,"y":0.012},{"m":"model p8","c":"m5","x":5.6,"y":0.004},{"m":"model p8","c":"m5","x":5.8,"y":-0.001},{"m":"model p8","c":"m5","x":6.0,"y":-0.002},{"m":"model p8","c":"m5","x":6.25,"y":0.010},{"m":"model p8","c":"m5","x":6.5,"y":0.027},{"m":"model p8","c":"m5","x":6.75,"y":0.040},
{"m":"model p8","c":"m5","x":7.0,"y":0.044},{"m":"model p8","c":"m5","x":7.25,"y":0.042},{"m":"model p8","c":"m5","x":7.5,"y":0.037},{"m":"model p8","c":"m5","x":7.75,"y":0.029},{"m":"model p8","c":"m5","x":8.0,"y":0.018},{"m":"model p8","c":"m5","x":8.2,"y":0.008},{"m":"model p8","c":"m5","x":8.4,"y":-0.004},{"m":"model p8","c":"m5","x":8.6,"y":-0.017},
{"m":"model p8","c":"m5","x":8.75,"y":-0.018},{"m":"model p8","c":"m5","x":8.85,"y":-0.022},{"m":"model p8","c":"m5","x":9.0,"y":-0.030},{"m":"model p8","c":"m5","x":9.15,"y":-0.025},{"m":"model p8","c":"m5","x":9.3,"y":-0.015},{"m":"model p8","c":"m5","x":9.45,"y":-0.011},{"m":"model p8","c":"m5","x":9.55,"y":-0.009},{"m":"model p8","c":"m5","x":9.65,"y":0.012},
{"m":"model p8","c":"m5","x":9.75,"y":0.016},{"m":"model p8","c":"m5","x":9.9,"y":0.014},{"m":"model p8","c":"m5","x":10.05,"y":0.010},{"m":"model p8","c":"m5","x":10.2,"y":0.018},{"m":"model p8","c":"m5","x":10.35,"y":0.023},{"m":"model p8","c":"m5","x":10.5,"y":0.026},{"m":"model p8","c":"m5","x":10.65,"y":0.017},{"m":"model p8","c":"m5","x":10.8,"y":0.006},{"m":"model p8","c":"m5","x":11.0,"y":-0.009},

{"m":"model p8","c":"m6","x":0.457,"y":-0.095},{"m":"model p8","c":"m6","x":0.606,"y":-0.187},{"m":"model p8","c":"m6","x":0.8,"y":-0.160},{"m":"model p8","c":"m6","x":1.818,"y":0},{"m":"model p8","c":"m6","x":2.29,"y":-0.044},{"m":"model p8","c":"m6","x":2.73,"y":-0.057},
{"m":"model p8","c":"m6","x":3.13,"y":-0.064},{"m":"model p8","c":"m6","x":3.2,"y":-0.066},{"m":"model p8","c":"m6","x":3.3,"y":-0.067},{"m":"model p8","c":"m6","x":3.4,"y":-0.070},{"m":"model p8","c":"m6","x":3.55,"y":-0.065},{"m":"model p8","c":"m6","x":3.7,"y":-0.064},{"m":"model p8","c":"m6","x":3.85,"y":-0.062},{"m":"model p8","c":"m6","x":4.0,"y":-0.056},
{"m":"model p8","c":"m6","x":4.15,"y":-0.046},{"m":"model p8","c":"m6","x":4.3,"y":-0.025},{"m":"model p8","c":"m6","x":4.45,"y":0.005},{"m":"model p8","c":"m6","x":4.55,"y":0.030},{"m":"model p8","c":"m6","x":4.65,"y":0.055},{"m":"model p8","c":"m6","x":4.8,"y":0.080},{"m":"model p8","c":"m6","x":4.95,"y":0.088},{"m":"model p8","c":"m6","x":5.1,"y":0.075},
{"m":"model p8","c":"m6","x":5.25,"y":0.052},{"m":"model p8","c":"m6","x":5.4,"y":0.030},{"m":"model p8","c":"m6","x":5.6,"y":0.004},{"m":"model p8","c":"m6","x":5.8,"y":-0.010},{"m":"model p8","c":"m6","x":6.0,"y":-0.015},{"m":"model p8","c":"m6","x":6.25,"y":0.005},{"m":"model p8","c":"m6","x":6.5,"y":0.030},{"m":"model p8","c":"m6","x":6.75,"y":0.047},
{"m":"model p8","c":"m6","x":7.0,"y":0.052},{"m":"model p8","c":"m6","x":7.25,"y":0.050},{"m":"model p8","c":"m6","x":7.5,"y":0.044},{"m":"model p8","c":"m6","x":7.75,"y":0.034},{"m":"model p8","c":"m6","x":8.0,"y":0.021},{"m":"model p8","c":"m6","x":8.2,"y":0.010},{"m":"model p8","c":"m6","x":8.4,"y":-0.003},{"m":"model p8","c":"m6","x":8.6,"y":-0.016},
{"m":"model p8","c":"m6","x":8.75,"y":-0.017},{"m":"model p8","c":"m6","x":8.85,"y":-0.021},{"m":"model p8","c":"m6","x":9.0,"y":-0.029},{"m":"model p8","c":"m6","x":9.15,"y":-0.024},{"m":"model p8","c":"m6","x":9.3,"y":-0.013},{"m":"model p8","c":"m6","x":9.45,"y":-0.012},{"m":"model p8","c":"m6","x":9.55,"y":-0.010},{"m":"model p8","c":"m6","x":9.65,"y":0.010},
{"m":"model p8","c":"m6","x":9.75,"y":0.018},{"m":"model p8","c":"m6","x":9.9,"y":0.013},{"m":"model p8","c":"m6","x":10.05,"y":0.012},{"m":"model p8","c":"m6","x":10.2,"y":0.014},{"m":"model p8","c":"m6","x":10.35,"y":0.028},{"m":"model p8","c":"m6","x":10.5,"y":0.029},{"m":"model p8","c":"m6","x":10.65,"y":0.022},{"m":"model p8","c":"m6","x":10.8,"y":0.015},{"m":"model p8","c":"m6","x":11.0,"y":0.001},

{"m":"model p8","c":"m7","x":0.457,"y":-0.190},{"m":"model p8","c":"m7","x":0.606,"y":-0.197},{"m":"model p8","c":"m7","x":0.8,"y":-0.165},{"m":"model p8","c":"m7","x":1.818,"y":0},{"m":"model p8","c":"m7","x":2.29,"y":-0.060},{"m":"model p8","c":"m7","x":2.73,"y":-0.083},
{"m":"model p8","c":"m7","x":3.13,"y":-0.097},{"m":"model p8","c":"m7","x":3.2,"y":-0.102},{"m":"model p8","c":"m7","x":3.3,"y":-0.104},{"m":"model p8","c":"m7","x":3.4,"y":-0.109},{"m":"model p8","c":"m7","x":3.55,"y":-0.099},{"m":"model p8","c":"m7","x":3.7,"y":-0.093},{"m":"model p8","c":"m7","x":3.85,"y":-0.085},{"m":"model p8","c":"m7","x":4.0,"y":-0.076},
{"m":"model p8","c":"m7","x":4.15,"y":-0.061},{"m":"model p8","c":"m7","x":4.3,"y":-0.032},{"m":"model p8","c":"m7","x":4.45,"y":0.004},{"m":"model p8","c":"m7","x":4.55,"y":0.030},{"m":"model p8","c":"m7","x":4.65,"y":0.060},{"m":"model p8","c":"m7","x":4.8,"y":0.092},{"m":"model p8","c":"m7","x":4.95,"y":0.102},{"m":"model p8","c":"m7","x":5.1,"y":0.088},
{"m":"model p8","c":"m7","x":5.25,"y":0.062},{"m":"model p8","c":"m7","x":5.4,"y":0.035},{"m":"model p8","c":"m7","x":5.6,"y":0.008},{"m":"model p8","c":"m7","x":5.8,"y":-0.006},{"m":"model p8","c":"m7","x":6.0,"y":-0.012},{"m":"model p8","c":"m7","x":6.25,"y":0.010},{"m":"model p8","c":"m7","x":6.5,"y":0.040},{"m":"model p8","c":"m7","x":6.75,"y":0.061},
{"m":"model p8","c":"m7","x":7.0,"y":0.067},{"m":"model p8","c":"m7","x":7.25,"y":0.065},{"m":"model p8","c":"m7","x":7.5,"y":0.057},{"m":"model p8","c":"m7","x":7.75,"y":0.044},{"m":"model p8","c":"m7","x":8.0,"y":0.027},{"m":"model p8","c":"m7","x":8.2,"y":0.013},{"m":"model p8","c":"m7","x":8.4,"y":-0.003},{"m":"model p8","c":"m7","x":8.6,"y":-0.015},
{"m":"model p8","c":"m7","x":8.75,"y":-0.016},{"m":"model p8","c":"m7","x":8.85,"y":-0.020},{"m":"model p8","c":"m7","x":9.0,"y":-0.027},{"m":"model p8","c":"m7","x":9.15,"y":-0.022},{"m":"model p8","c":"m7","x":9.3,"y":-0.009},{"m":"model p8","c":"m7","x":9.45,"y":-0.011},{"m":"model p8","c":"m7","x":9.55,"y":-0.007},{"m":"model p8","c":"m7","x":9.65,"y":0.014},
{"m":"model p8","c":"m7","x":9.75,"y":0.021},{"m":"model p8","c":"m7","x":9.9,"y":0.015},{"m":"model p8","c":"m7","x":10.05,"y":0.017},{"m":"model p8","c":"m7","x":10.2,"y":0.020},{"m":"model p8","c":"m7","x":10.35,"y":0.027},{"m":"model p8","c":"m7","x":10.5,"y":0.034},{"m":"model p8","c":"m7","x":10.65,"y":0.029},{"m":"model p8","c":"m7","x":10.8,"y":0.022},{"m":"model p8","c":"m7","x":11.0,"y":0.0105}
]},
 "mark":{"type":"line","strokeWidth":1.4,"clip":true},
 "encoding":{
  "x":{"field":"x","type":"quantitative","scale":{"domain":[0.4,11],"nice":false,"zero":false},
   "axis":{"orient":"top","values":[0.5,1,1.5,2,2.5,3,3.5,4,4.5,5,5.5,6,6.5,7,7.5,8,8.5,9,9.5,10,10.5,11],"tickSize":-9,"labels":false,"title":null}},
  "y":{"field":"y","type":"quantitative","scale":{"domain":[-0.25,0.3],"nice":false,"zero":false},
   "axis":{"orient":"right","values":[-0.25,-0.24,-0.23,-0.22,-0.21,-0.2,-0.19,-0.18,-0.17,-0.16,-0.15,-0.14,-0.13,-0.12,-0.11,-0.1,-0.09,-0.08,-0.07,-0.06,-0.05,-0.04,-0.03,-0.02,-0.01,0,0.01,0.02,0.03,0.04,0.05,0.06,0.07,0.08,0.09,0.1,0.11,0.12,0.13,0.14,0.15,0.16,0.17,0.18,0.19,0.2,0.21,0.22,0.23,0.24,0.25,0.26,0.27,0.28,0.29,0.3],"tickSize":-12,"labels":false,"title":null}},
  "color":{"field":"m","type":"nominal","scale":{"domain":["model p6","model p8"],"range":["#000000","#ff00ff"]},
   "legend":{"orient":"none","legendX":891.7,"legendY":31.7,"title":null,"labelFont":"Liberation Serif","labelFontSize":33,"labelColor":"black","labelLimit":500,"symbolType":"M-5,0H5","symbolSize":557,"symbolStrokeWidth":1.5,"labelOffset":-244,"symbolOffset":215,"padding":6,"rowPadding":0,"strokeColor":"black","fillColor":"white",
    "encode":{"labels":{"update":{"fill":{"signal":"datum.value === 'model p8' ? '#ff00ff' : '#000000'"}}},"legend":{"update":{"strokeWidth":{"value":1.5}}}}}},
  "detail":{"field":"c"}
 }}
]
}
